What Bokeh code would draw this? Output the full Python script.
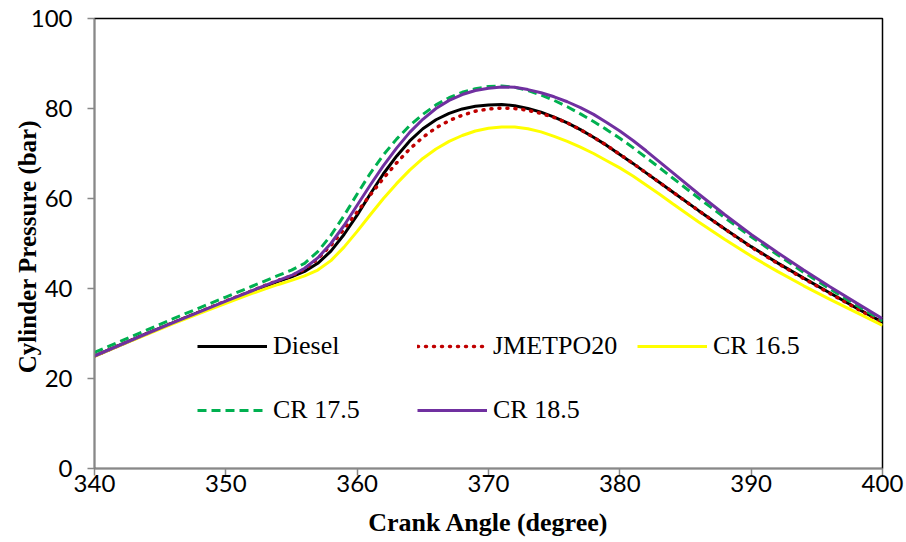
from bokeh.plotting import figure
from bokeh.models import Legend, LegendItem, Range1d, FixedTicker
from bokeh.embed import file_html
from bokeh.resources import INLINE

angle = [340, 342, 344, 346, 348, 350, 352,
         353, 354, 355, 356, 357, 358, 359, 360, 361, 362, 363, 364, 365, 366, 367, 368,
         369, 370, 371, 372, 373, 374, 375, 376, 377, 378, 379, 380, 381, 382, 383, 384,
         386, 388, 390, 392, 394, 396, 398, 400]

diesel = [25.0, 27.5, 30.0, 32.4, 34.8, 37.1, 39.4,
          40.5, 41.6, 42.6, 43.8, 45.6, 48.3, 52.0, 56.3, 61.0, 65.5, 69.4, 72.8, 75.5, 77.5, 78.9, 79.9,
          80.5, 80.8, 80.9, 80.6, 80.0, 79.2, 78.1, 76.8, 75.3, 73.6, 71.8, 69.8, 67.8, 65.7, 63.6, 61.5,
          57.3, 53.2, 49.3, 45.7, 42.3, 39.0, 35.7, 32.5]

jmetpo20 = [25.0, 27.5, 30.0, 32.4, 34.8, 37.2, 39.5,
            40.7, 41.8, 42.8, 44.3, 46.6, 49.6, 53.2, 57.0, 60.8, 64.5, 67.9, 71.0, 73.6, 75.7, 77.3, 78.5,
            79.4, 79.9, 80.1, 80.0, 79.6, 78.9, 78.0, 76.8, 75.3, 73.6, 71.8, 69.8, 67.8, 65.7, 63.6, 61.5,
            57.3, 53.2, 49.2, 45.6, 42.2, 38.9, 35.6, 32.4]

cr165 = [24.9, 27.4, 29.8, 32.2, 34.5, 36.7, 38.9,
         39.9, 40.9, 41.8, 42.8, 44.1, 46.2, 49.2, 52.7, 56.4, 60.0, 63.3, 66.3, 68.9, 71.0, 72.7, 74.0,
         75.0, 75.6, 75.9, 75.9, 75.5, 74.8, 73.8, 72.7, 71.4, 70.0, 68.4, 66.8, 65.0, 63.0, 61.0, 58.9,
         54.8, 50.9, 47.2, 43.8, 40.6, 37.6, 34.7, 31.8]

cr175 = [25.8, 28.3, 30.8, 33.3, 35.7, 38.1, 40.5,
         41.7, 42.9, 44.1, 45.6, 48.2, 51.8, 56.2, 61.0, 65.6, 69.7, 73.2, 76.2, 78.7, 80.8, 82.4, 83.6,
         84.4, 84.9, 85.0, 84.7, 84.0, 83.0, 81.8, 80.4, 78.8, 77.1, 75.3, 73.4, 71.3, 69.1, 66.9, 64.6,
         60.1, 55.7, 51.5, 47.5, 43.6, 39.9, 36.3, 32.8]

cr185 = [25.0, 27.5, 30.0, 32.4, 34.8, 37.2, 39.5,
         40.7, 41.8, 42.9, 44.5, 46.8, 50.0, 54.0, 58.5, 63.0, 67.3, 71.2, 74.7, 77.6, 80.0, 81.8, 83.1,
         84.0, 84.5, 84.8, 84.7, 84.2, 83.5, 82.6, 81.5, 80.2, 78.7, 76.9, 75.0, 72.9, 70.6, 68.2, 65.8,
         61.0, 56.4, 52.0, 48.0, 44.1, 40.4, 36.8, 33.3]

x_ticks = [340, 350, 360, 370, 380, 390, 400]
y_ticks = [0, 20, 40, 60, 80, 100]

p = figure(width=906, height=542, output_backend="svg", toolbar_location=None,
           x_range=Range1d(340, 400), y_range=Range1d(0, 100),
           min_border_left=94, min_border_right=24, min_border_top=18, min_border_bottom=74)

p.xgrid.visible = False
p.ygrid.visible = False
p.outline_line_color = "black"
p.outline_line_width = 1.5
p.background_fill_color = "white"
p.border_fill_color = "white"

tick_font = "Lato"
for ax in (p.xaxis[0], p.yaxis[0]):
    ax.axis_line_color = "#888888"
    ax.axis_line_width = 1.5
    ax.major_tick_line_color = "#888888"
    ax.major_tick_line_width = 1.5
    ax.major_tick_in = 0
    ax.major_tick_out = 7
    ax.minor_tick_line_color = None
    ax.major_label_text_font = tick_font
    ax.major_label_text_font_size = "24px"
    ax.major_label_text_color = "black"
    ax.axis_label_text_font = "Liberation Serif"
    ax.axis_label_text_font_style = "bold"
    ax.axis_label_text_color = "black"

p.xaxis[0].axis_label_text_font_size = "26px"
p.yaxis[0].axis_label_text_font_size = "25px"
p.xaxis[0].ticker = FixedTicker(ticks=x_ticks)
p.yaxis[0].ticker = FixedTicker(ticks=y_ticks)
p.xaxis[0].major_label_standoff = -1
p.yaxis[0].major_label_standoff = 15
p.xaxis[0].axis_label = "Crank Angle (degree)"
p.yaxis[0].axis_label = "Cylinder  Pressure (bar)"
p.xaxis[0].axis_label_standoff = 13
p.yaxis[0].axis_label_standoff = -13

r_d = p.line(angle, diesel, line_color="black", line_width=3)
r_j = p.line(angle, jmetpo20, line_color="#C00000", line_width=3.5, line_dash="1 7", line_cap="round")
r_16 = p.line(angle, cr165, line_color="#FFFF00", line_width=3)
r_17 = p.line(angle, cr175, line_color="#00B050", line_width=3, line_dash="9 5")
r_18 = p.line(angle, cr185, line_color="#7030A0", line_width=3)

def make_legend(items, loc):
    lg = Legend(items=items, location=loc, orientation="horizontal",
                glyph_width=70, glyph_height=20, label_height=30, label_width=140,
                label_standoff=6, spacing=4, padding=0, margin=0,
                border_line_color=None, background_fill_alpha=0,
                label_text_font="Liberation Serif", label_text_font_size="26px",
                label_text_color="black")
    return lg

leg1 = make_legend([LegendItem(label="Diesel", renderers=[r_d]),
                    LegendItem(label="JMETPO20", renderers=[r_j]),
                    LegendItem(label="CR 16.5", renderers=[r_16])], (103, 107))
leg2 = make_legend([LegendItem(label="CR 17.5", renderers=[r_17]),
                    LegendItem(label="CR 18.5", renderers=[r_18])], (103, 43))
p.add_layout(leg1)
p.add_layout(leg2)

open("out.html", "w").write(file_html(p, INLINE))
